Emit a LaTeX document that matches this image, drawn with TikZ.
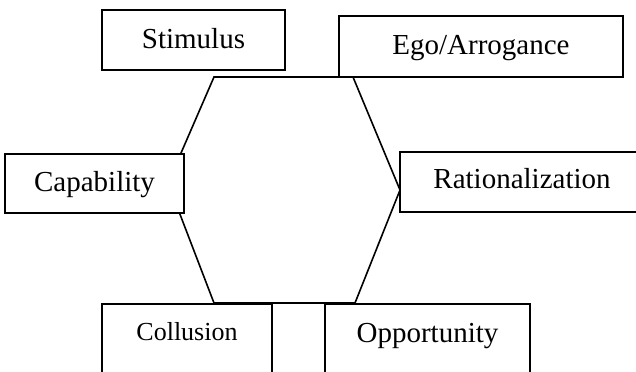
\documentclass[tikz,border=0pt]{standalone}
\usepackage{fontspec}
\setmainfont{Liberation Serif}
\begin{document}
\begin{tikzpicture}[x=1bp,y=-1bp,
  box/.style={draw=black, fill=white, line width=1.6bp, inner sep=0pt,
    font=\fontsize{29bp}{32bp}\selectfont, text height=20bp, text depth=4bp},
  openbox/.style={draw=black, fill=white, line width=1.6bp, inner sep=0pt, anchor=north,
    font=\fontsize{29bp}{32bp}\selectfont, text depth=60bp},
  hexline/.style={draw=black, line width=1.6bp, line join=miter}]
\useasboundingbox (0,0) rectangle (636,371);
% hexagon vertices
\coordinate (h1) at (214,77);
\coordinate (h2) at (353,77);
\coordinate (h3) at (400,190);
\coordinate (h4) at (355,303);
\coordinate (h5) at (214,303);
\coordinate (h6) at (168,183);
\draw[hexline] (h1) -- (h2) -- (h3) -- (h4) -- (h5) -- (h6) -- cycle;
% boxes
\node[box, minimum width=183bp, minimum height=60bp] (stim) at (193.5,40) {Stimulus};
\node[box, minimum width=284bp, minimum height=61bp] (ego) at (481,46.5) {Ego/Arrogance};
\node[box, minimum width=179bp, minimum height=59bp] (cap) at (94.5,183.5) {Capability};
\node[box, minimum width=244bp, minimum height=60bp, text height=17bp] (rat) at (522,182) {Rationalization};
\node[openbox, minimum width=170bp, text height=37bp, font=\fontsize{26bp}{29bp}\selectfont] (coll) at (187,303) {Collusion};
\node[openbox, minimum width=205bp, text height=39bp] (opp) at (427.5,303) {Opportunity};
\end{tikzpicture}
\end{document}
